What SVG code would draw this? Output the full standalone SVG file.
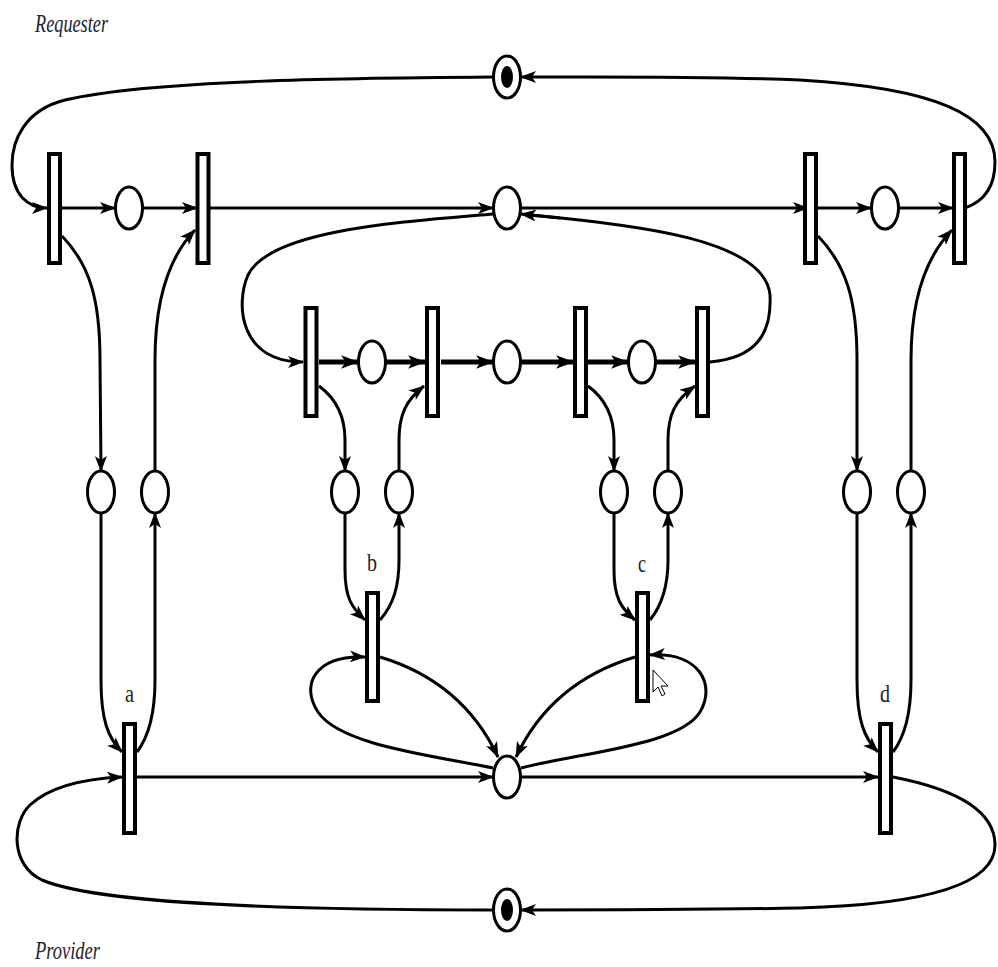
<svg xmlns="http://www.w3.org/2000/svg" width="998" height="967" viewBox="0 0 998 967">
<style>
.c{fill:none;stroke:#000;stroke-width:3;marker-end:url(#ah)}
.n{fill:none;stroke:#000;stroke-width:3}
.k{fill:none;stroke:#000;stroke-width:5;marker-end:url(#ahb)}
.t{fill:#fff;stroke:#000;stroke-width:4}
.p{fill:#fff;stroke:#000;stroke-width:3}
.lbl{font-family:"Liberation Serif",serif;font-size:26px;fill:#222}
.ttl{font-family:"Liberation Serif",serif;font-style:italic;font-size:25px;fill:#223}
</style>
<defs>
<marker id="ah" viewBox="0 0 16 12" refX="15" refY="6" markerWidth="16" markerHeight="12" orient="auto" markerUnits="userSpaceOnUse"><path d="M0,0 L16,6 L0,12 L4,6 z" fill="#000"/></marker>
<marker id="ahb" viewBox="0 0 16 12" refX="15" refY="6" markerWidth="18" markerHeight="14" orient="auto" markerUnits="userSpaceOnUse"><path d="M0,0 L16,6 L0,12 L4,6 z" fill="#000"/></marker>
</defs>
<rect width="998" height="967" fill="#fff"/>
<g id="connectors">
<path class="c" d="M62,208 L115,208"/>
<path class="c" d="M143,208 L197,208"/>
<path class="c" d="M210,208 L493,208"/>
<path class="c" d="M521,208 L808,208"/>
<path class="c" d="M818,208 L871,208"/>
<path class="c" d="M899,208 L953,208"/>
<path class="c" d="M493,77 C350,78 150,80 65,100 C25,110 12,140 12,165 C12,195 28,208 47,208"/>
<path class="c" d="M965,208 C988,200 995,182 995,162 C995,115 935,88 800,80 C700,76 600,77 521,77"/>
<path class="k" d="M319,362 L358,362"/>
<path class="k" d="M386,362 L425,362"/>
<path class="k" d="M441,362 L493,362"/>
<path class="k" d="M521,362 L573,362"/>
<path class="k" d="M588,362 L628,362"/>
<path class="k" d="M656,362 L695,362"/>
<path class="c" d="M493,214 C400,222 270,230 248,275 C235,305 240,362 303,362"/>
<path class="n" d="M710,362 C755,358 772,335 770,295 C765,240 640,225 530,215"/>
<path class="c" d="M560,218 L521,214"/>
<path class="c" d="M62,236 C90,265 100,300 100,360 L101,471"/>
<path class="c" d="M155,471 L155,360 C155,300 168,258 195,230"/>
<path class="c" d="M101,513 L101,680 C101,720 108,738 122,752"/>
<path class="c" d="M137,752 C150,735 155,710 155,680 L155,513"/>
<path class="c" d="M319,386 C338,400 345,420 345,440 L345,471"/>
<path class="c" d="M399,471 L399,440 C399,415 406,400 424,386"/>
<path class="c" d="M345,513 L345,570 C345,598 352,608 365,620"/>
<path class="c" d="M380,620 C394,604 399,585 399,560 L399,513"/>
<path class="c" d="M588,386 C607,400 614,420 614,440 L614,471"/>
<path class="c" d="M668,471 L668,440 C668,415 675,400 695,386"/>
<path class="c" d="M614,513 L614,570 C614,598 621,608 635,620"/>
<path class="c" d="M650,620 C663,604 668,585 668,560 L668,513"/>
<path class="c" d="M818,236 C846,265 857,300 857,360 L857,471"/>
<path class="c" d="M911,471 L911,360 C911,300 925,258 952,230"/>
<path class="c" d="M857,513 L857,680 C857,720 864,738 878,752"/>
<path class="c" d="M893,752 C906,735 911,710 911,680 L911,513"/>
<path class="c" d="M380,657 C430,672 472,702 498,757"/>
<path class="c" d="M493,768 C430,755 340,745 318,712 C300,685 315,655 365,657"/>
<path class="c" d="M635,657 C585,672 542,702 516,757"/>
<path class="c" d="M521,768 C585,752 680,745 700,712 C716,685 700,652 650,655"/>
<path class="c" d="M137,777 L493,777"/>
<path class="c" d="M521,777 L878,777"/>
<path class="c" d="M493,910 C300,910 100,905 42,880 C10,865 12,822 30,805 C55,782 100,778 122,777"/>
<path class="c" d="M893,777 C960,790 995,812 995,845 C995,880 940,904 800,908 C700,910 600,910 521,910"/>
</g>
<g id="T1"><rect class="t" x="49" y="154" width="11" height="109"/></g>
<g id="T2"><rect class="t" x="197.5" y="154" width="11" height="109"/></g>
<g id="T3"><rect class="t" x="805" y="154" width="11" height="109"/></g>
<g id="T4"><rect class="t" x="954" y="154" width="11" height="109"/></g>
<g id="P1"><ellipse class="p" cx="129" cy="208" rx="13.5" ry="21"/></g>
<g id="Pm"><ellipse class="p" cx="507" cy="208" rx="13.5" ry="21"/></g>
<g id="P3"><ellipse class="p" cx="885" cy="208" rx="13.5" ry="21"/></g>
<g id="Ptop"><ellipse class="p" cx="507" cy="77" rx="13.5" ry="21"/><ellipse cx="507" cy="77" rx="6" ry="11" fill="#000"/></g>
<g id="Pbot"><ellipse class="p" cx="507" cy="910" rx="13.5" ry="21"/><ellipse cx="507" cy="910" rx="6" ry="11" fill="#000"/></g>
<g id="Ti1"><rect class="t" x="305.5" y="308" width="11" height="108"/></g>
<g id="Ti2"><rect class="t" x="427" y="308" width="11" height="108"/></g>
<g id="Ti3"><rect class="t" x="575" y="308" width="11" height="108"/></g>
<g id="Ti4"><rect class="t" x="697" y="308" width="11" height="108"/></g>
<g id="Pi1"><ellipse class="p" cx="372" cy="362" rx="13.5" ry="21"/></g>
<g id="Pi2"><ellipse class="p" cx="507" cy="362" rx="13.5" ry="21"/></g>
<g id="Pi3"><ellipse class="p" cx="642" cy="362" rx="13.5" ry="21"/></g>
<g id="V1"><ellipse class="p" cx="101" cy="492" rx="13.5" ry="21"/></g>
<g id="V2"><ellipse class="p" cx="155" cy="492" rx="13.5" ry="21"/></g>
<g id="V3"><ellipse class="p" cx="345" cy="492" rx="13.5" ry="21"/></g>
<g id="V4"><ellipse class="p" cx="399" cy="492" rx="13.5" ry="21"/></g>
<g id="V5"><ellipse class="p" cx="614" cy="492" rx="13.5" ry="21"/></g>
<g id="V6"><ellipse class="p" cx="668" cy="492" rx="13.5" ry="21"/></g>
<g id="V7"><ellipse class="p" cx="857" cy="492" rx="13.5" ry="21"/></g>
<g id="V8"><ellipse class="p" cx="911" cy="492" rx="13.5" ry="21"/></g>
<g id="Ta"><rect class="t" x="124" y="724" width="11" height="109"/><text class="lbl" x="125" y="702" textLength="9" lengthAdjust="spacingAndGlyphs">a</text></g>
<g id="Tb"><rect class="t" x="367" y="593" width="11" height="108"/><text class="lbl" x="367" y="571" textLength="10" lengthAdjust="spacingAndGlyphs">b</text></g>
<g id="Tc"><rect class="t" x="637" y="593" width="11" height="108"/><text class="lbl" x="638" y="572" textLength="8" lengthAdjust="spacingAndGlyphs">c</text></g>
<g id="Td"><rect class="t" x="880" y="724" width="11" height="109"/><text class="lbl" x="880" y="702" textLength="10" lengthAdjust="spacingAndGlyphs">d</text></g>
<g id="Pb"><ellipse class="p" cx="507" cy="777" rx="13.5" ry="21"/></g>
<text class="ttl" x="35" y="32" textLength="73" lengthAdjust="spacingAndGlyphs">Requester</text>
<text class="ttl" x="35" y="959" textLength="65" lengthAdjust="spacingAndGlyphs">Provider</text>
<path d="M653,670 L653,692 L658,687 L662,696 L665,694 L661,686 L668,686 Z" fill="#fff" stroke="#000" stroke-width="1"/>
</svg>
